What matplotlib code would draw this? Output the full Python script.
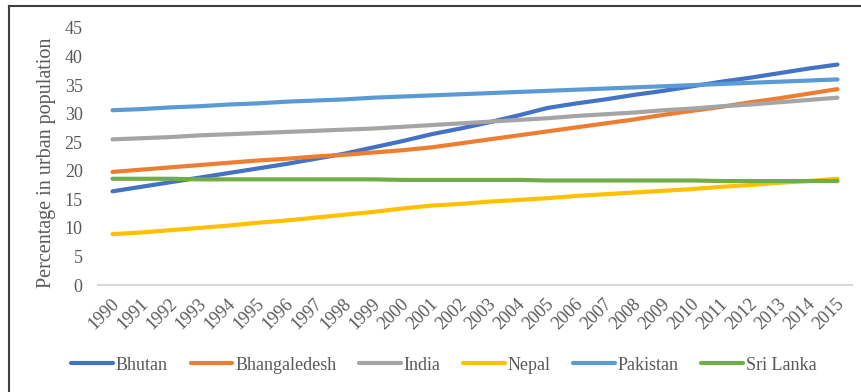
import matplotlib
matplotlib.use("Agg")
import matplotlib.pyplot as plt
from matplotlib.lines import Line2D
from matplotlib.transforms import ScaledTranslation

years = [str(y) for y in range(1990, 2016)]

bhutan = [16.4, 17.2, 18.0, 18.8, 19.6, 20.4, 21.2, 22.1, 23.0, 24.1, 25.2, 26.4, 27.4,
          28.5, 29.7, 31.0, 31.8, 32.5, 33.3, 34.0, 34.8, 35.6, 36.3, 37.1, 37.9, 38.6]
bangladesh = [19.8, 20.2, 20.6, 21.0, 21.4, 21.8, 22.1, 22.5, 22.8, 23.2, 23.6, 24.1, 24.8,
              25.5, 26.2, 26.9, 27.6, 28.3, 29.0, 29.8, 30.5, 31.2, 32.0, 32.7, 33.5, 34.3]
india = [25.5, 25.7, 25.9, 26.2, 26.4, 26.6, 26.8, 27.0, 27.2, 27.4, 27.7, 28.0, 28.3,
         28.6, 28.9, 29.2, 29.6, 29.9, 30.2, 30.6, 30.9, 31.3, 31.6, 32.0, 32.4, 32.8]
nepal = [8.9, 9.2, 9.6, 10.0, 10.4, 10.9, 11.3, 11.8, 12.3, 12.8, 13.4, 13.9, 14.2,
         14.6, 14.9, 15.2, 15.6, 15.9, 16.2, 16.5, 16.8, 17.2, 17.5, 17.9, 18.2, 18.6]
pakistan = [30.6, 30.8, 31.1, 31.3, 31.6, 31.8, 32.1, 32.3, 32.5, 32.8, 33.0, 33.2, 33.4,
            33.6, 33.8, 34.0, 34.2, 34.4, 34.6, 34.8, 35.0, 35.2, 35.4, 35.6, 35.8, 36.0]
sri_lanka = [18.6, 18.6, 18.6, 18.5, 18.5, 18.5, 18.5, 18.5, 18.5, 18.5, 18.4, 18.4, 18.4,
             18.4, 18.4, 18.3, 18.3, 18.3, 18.3, 18.3, 18.3, 18.2, 18.2, 18.2, 18.2, 18.2]

series_names = ["Bhutan", "Bhangaledesh", "India", "Nepal", "Pakistan", "Sri Lanka"]
series_values = [bhutan, bangladesh, india, nepal, pakistan, sri_lanka]
colors = ["#4472C4", "#ED7D31", "#A5A5A5", "#FFC000", "#5B9BD5", "#70AD47"]
yticks = list(range(0, 50, 5))

plt.rcParams["font.family"] = ["Liberation Serif", "DejaVu Serif"]
text_color = "#595959"

fig = plt.figure(figsize=(8.61, 3.92), dpi=100)
ax = fig.add_axes([98 / 861, 1 - 285 / 392, (852 - 98) / 861, (285 - 28) / 392])

x = list(range(len(years)))
for name, vals, c in zip(series_names, series_values, colors):
    ax.plot(x, vals, color=c, lw=3.0, solid_capstyle="round", label=name)

ax.set_xlim(-0.5, len(years) - 0.5)
ax.set_ylim(0, 45)
ax.set_yticks(yticks)
ax.set_yticklabels([str(v) for v in yticks], fontsize=13, color=text_color)
ax.set_xticks(x)
ax.set_xticklabels(years, rotation=45, ha="right", va="center",
                   rotation_mode="anchor", fontsize=13, color=text_color)
ax.tick_params(axis="y", length=0, pad=11)
ax.tick_params(axis="x", length=0, pad=12)
shift = ScaledTranslation(4 / 100, 0, fig.dpi_scale_trans)
for lbl in ax.get_xticklabels():
    lbl.set_transform(lbl.get_transform() + shift)

for side in ["top", "right", "left"]:
    ax.spines[side].set_visible(False)
ax.spines["bottom"].set_color("#D9D9D9")
ax.spines["bottom"].set_linewidth(1.5)

ax.set_ylabel("Percentage in urban population", fontsize=14.5, color=text_color,
              va="center")
ax.yaxis.set_label_coords(-0.068, 0.475)

handles = [Line2D([0], [0], color=c, lw=3.0, solid_capstyle="round") for c in colors]
leg = fig.legend(handles, series_names, loc="center", bbox_to_anchor=(444 / 861, 1 - 365 / 392),
                 ncol=6, frameon=False, fontsize=13, handlelength=2.3, handletextpad=0.17,
                 columnspacing=1.25)
for t in leg.get_texts():
    t.set_color(text_color)

# outer frame: left and top edges
fig.add_artist(Line2D([9 / 861, 9 / 861], [0, 1 - 6 / 392], transform=fig.transFigure,
                      color="#404040", lw=1.5))
fig.add_artist(Line2D([9 / 861, 1], [1 - 6 / 392, 1 - 6 / 392], transform=fig.transFigure,
                      color="#404040", lw=1.5))

fig.savefig("out.png", dpi=100)
